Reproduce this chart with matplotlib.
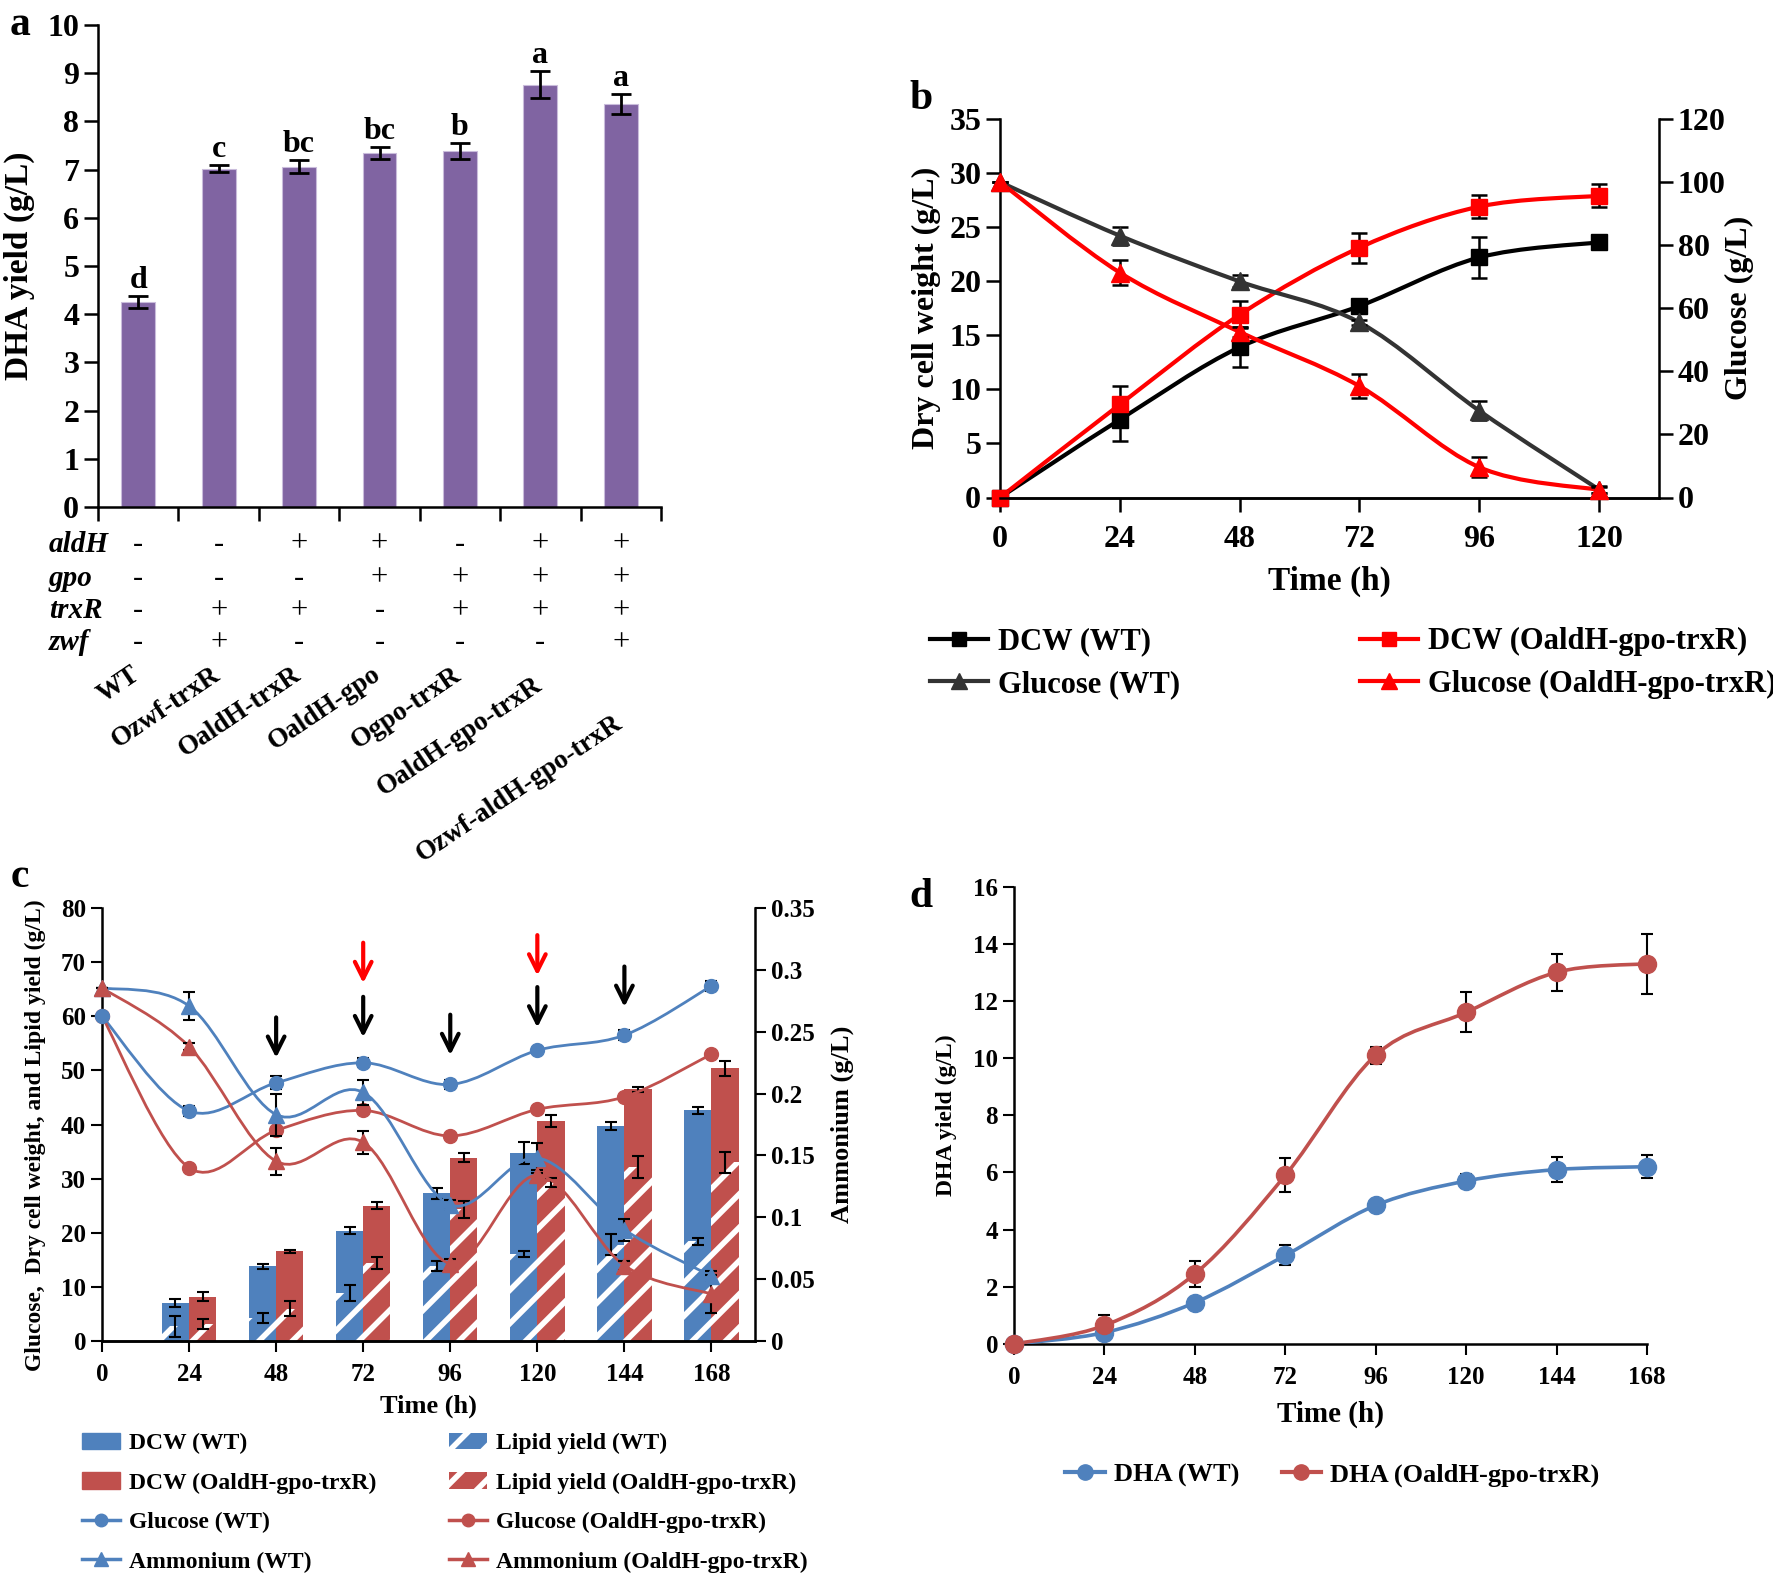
import numpy as np
import matplotlib
matplotlib.use("Agg")
import matplotlib.pyplot as plt
from matplotlib.path import Path
from matplotlib.patches import PathPatch, Patch
from matplotlib.lines import Line2D
from matplotlib.ticker import FuncFormatter
from matplotlib.transforms import blended_transform_factory

plt.rcParams["font.family"] = ["Liberation Serif", "DejaVu Serif"]
plt.rcParams["font.weight"] = "bold"
plt.rcParams["axes.labelweight"] = "bold"
plt.rcParams["hatch.linewidth"] = 4.0
plt.rcParams["axes.linewidth"] = 1.8

# ---------------- panel a: DHA yield of the strains
strains = ["WT", "Ozwf-trxR", "OaldH-trxR", "OaldH-gpo", "Ogpo-trxR",
           "OaldH-gpo-trxR", "Ozwf-aldH-gpo-trxR"]
dha_yield = [4.25, 7.02, 7.06, 7.34, 7.38, 8.76, 8.36]
dha_err = [0.12, 0.08, 0.14, 0.13, 0.17, 0.28, 0.20]
sig_letters = ["d", "c", "bc", "bc", "b", "a", "a"]
genes = ["aldH", "gpo", "trxR", "zwf"]
gene_marks = [
    ["-", "-", "+", "+", "-", "+", "+"],
    ["-", "-", "-", "+", "+", "+", "+"],
    ["-", "+", "+", "-", "+", "+", "+"],
    ["-", "+", "-", "-", "-", "-", "+"],
]

# ---------------- panel b: DCW and glucose, flask culture
time_b = [0, 24, 48, 72, 96, 120]
dcw_wt_b = [0, 7.2, 13.9, 17.7, 22.2, 23.6]
dcw_wt_b_err = [0, 2.0, 1.85, 0.4, 1.9, 0.3]
dcw_ox_b = [0, 8.6, 16.9, 23.1, 26.9, 27.9]
dcw_ox_b_err = [0, 1.7, 1.25, 1.4, 1.1, 1.05]
glc_wt_b = [100, 83, 68.5, 55.5, 27.5, 2.5]
glc_wt_b_err = [0, 2.9, 1.9, 0.8, 3.0, 1.0]
glc_ox_b = [100, 71.3, 52.5, 35.3, 9.6, 2.4]
glc_ox_b_err = [0, 4.0, 1.5, 3.7, 3.2, 1.0]

# ---------------- panel c: fed-batch culture
time_c = [0, 24, 48, 72, 96, 120, 144, 168]
bar_time_c = [24, 48, 72, 96, 120, 144, 168]
dcw_wt_c = [7.0, 13.8, 20.4, 27.3, 34.7, 39.7, 42.6]
dcw_wt_c_err = [0.7, 0.5, 0.6, 1.0, 2.0, 0.8, 0.6]
dcw_ox_c = [8.2, 16.6, 25.0, 33.9, 40.7, 46.5, 50.4]
dcw_ox_c_err = [0.8, 0.3, 0.6, 0.8, 1.1, 0.5, 1.4]
lipid_wt_c = [2.7, 4.3, 8.9, 13.8, 16.1, 17.8, 18.4]
lipid_wt_c_err = [1.9, 0.9, 1.5, 0.9, 0.5, 1.9, 0.6]
lipid_ox_c = [3.2, 6.0, 14.4, 24.3, 29.3, 32.1, 33.0]
lipid_ox_c_err = [0.9, 1.4, 1.1, 1.5, 0.9, 2.0, 2.0]
glc_wt_c = [60, 42.5, 47.7, 51.4, 47.4, 53.7, 56.5, 65.6]
glc_wt_c_err = [0, 0.9, 1.2, 0.8, 0.8, 0.4, 0.9, 1.0]
glc_ox_c = [60, 32.0, 38.9, 42.6, 37.9, 42.8, 45.1, 53.0]
amm_wt_c = [0.2855, 0.2708, 0.183, 0.201, 0.110, 0.148, 0.090, 0.0525]
amm_wt_c_err = [0, 0.011, 0.017, 0.010, 0.004, 0.012, 0.009, 0.004]
amm_ox_c = [0.2855, 0.238, 0.1453, 0.1606, 0.0626, 0.134, 0.061, 0.038]
amm_ox_c_err = [0, 0.003, 0.011, 0.0095, 0.004, 0.004, 0.004, 0.015]
# feeding arrows (time, tip height on the left axis)
feed_black = [(48, 51.8), (72, 55.6), (96, 52.3), (120, 57.4), (144, 61.2)]
feed_red = [(72, 65.6), (120, 67.0)]

# ---------------- panel d: DHA in fed-batch culture
time_d = [0, 24, 48, 72, 96, 120, 144, 168]
dha_wt_d = [0, 0.4, 1.45, 3.1, 4.85, 5.7, 6.1, 6.2]
dha_wt_d_err = [0, 0.05, 0.15, 0.35, 0.1, 0.25, 0.45, 0.4]
dha_ox_d = [0, 0.65, 2.45, 5.9, 10.1, 11.6, 13.0, 13.3]
dha_ox_d_err = [0, 0.35, 0.45, 0.6, 0.3, 0.7, 0.65, 1.05]

PURPLE = "#8064A2"
BLUE = "#4F81BD"
RED = "#C0504D"
W, H = 1773, 1574


def fx(px):
    return px / W


def fy(py):
    return 1 - py / H


def smooth_line(ax, x, y, color, lw, zorder=3):
    # Excel-like smoothed line: cubic bezier segments through the points
    pts = np.column_stack([np.asarray(x, float), np.asarray(y, float)])
    ext = np.vstack([pts[0], pts, pts[-1]])
    verts = [pts[0]]
    codes = [Path.MOVETO]
    for i in range(len(pts) - 1):
        p0, p1, p2, p3 = ext[i], ext[i + 1], ext[i + 2], ext[i + 3]
        verts += [p1 + (p2 - p0) / 6.0, p2 - (p3 - p1) / 6.0, p2]
        codes += [Path.CURVE4] * 3
    ax.add_patch(PathPatch(Path(verts, codes), fill=False, edgecolor=color,
                           lw=lw, zorder=zorder, capstyle="round"))


def clean(ax):
    ax.spines["top"].set_visible(False)
    ax.spines["right"].set_visible(False)


fig = plt.figure(figsize=(W / 100, H / 100), dpi=100)

# ======================= panel a
ax_a = fig.add_axes([fx(98), fy(507), fx(661 - 98), (507 - 25) / H])
xa = np.arange(len(strains))
ax_a.bar(xa, dha_yield, width=0.42, color=PURPLE, edgecolor="#c9bcdb",
         lw=0.8, zorder=2)
ax_a.errorbar(xa, dha_yield, yerr=dha_err, fmt="none", ecolor="black",
              elinewidth=2, capsize=7, capthick=2, zorder=3)
for x, v, e, s in zip(xa, dha_yield, dha_err, sig_letters):
    ax_a.text(x, v + e + 0.02, s, ha="center", va="bottom", fontsize=23)
ax_a.set_xlim(-0.5, len(strains) - 0.5)
ax_a.set_ylim(0, 10)
ax_a.set_yticks(range(0, 11))
ax_a.set_xticks(np.arange(-0.5, len(strains), 1))
ax_a.set_xticklabels([])
ax_a.tick_params(direction="out", length=10, width=1.8, labelsize=23)
ax_a.set_ylabel("DHA yield (g/L)", fontsize=24)
ax_a.yaxis.set_label_coords(-0.112, 0.5)
clean(ax_a)

tr_a = blended_transform_factory(ax_a.transData, fig.transFigure)
row_y = [544, 578, 611, 643]
for gene, marks, ry in zip(genes, gene_marks, row_y):
    fig.text(fx(49), fy(ry), gene, ha="left", va="center", fontsize=21,
             style="italic")
    for x, m in zip(xa, marks):
        ax_a.text(x, fy(ry), m, transform=tr_a, ha="center", va="center",
                  fontsize=22, fontweight="normal")
# the last two labels sit a little lower, as in the source figure
label_top = [662, 662, 662, 662, 662, 672, 711]
for x, s, ly in zip(xa, strains, label_top):
    ax_a.text(x - 0.1, fy(ly), s, transform=tr_a, ha="right", va="top",
              rotation=34, rotation_mode="anchor", fontsize=19.5)

fig.text(fx(20), fy(25), "a", ha="center", va="center", fontsize=30)

# ======================= panel b
ax_b = fig.add_axes([fx(1000), fy(497.5), fx(1659 - 1000), (497.5 - 119) / H])
ax_b2 = ax_b.twinx()
smooth_line(ax_b, time_b, dcw_wt_b, "black", 3)
smooth_line(ax_b, time_b, dcw_ox_b, "#ff0000", 3)
smooth_line(ax_b2, time_b, glc_wt_b, "#333333", 3)
smooth_line(ax_b2, time_b, glc_ox_b, "#ff0000", 3)
ax_b.errorbar(time_b, dcw_wt_b, yerr=dcw_wt_b_err, fmt="s", color="black",
              ms=11, ecolor="black", elinewidth=1.8, capsize=6, capthick=1.8,
              zorder=4, clip_on=False)
ax_b.errorbar(time_b, dcw_ox_b, yerr=dcw_ox_b_err, fmt="s", color="#ff0000",
              ms=11, ecolor="black", elinewidth=1.8, capsize=6, capthick=1.8,
              zorder=4, clip_on=False)
ax_b2.errorbar(time_b, glc_wt_b, yerr=glc_wt_b_err, fmt="^", color="#333333",
               ms=13, ecolor="black", elinewidth=1.8, capsize=6, capthick=1.8,
               zorder=4, clip_on=False)
ax_b2.errorbar(time_b, glc_ox_b, yerr=glc_ox_b_err, fmt="^", color="#ff0000",
               ms=13, ecolor="black", elinewidth=1.8, capsize=6, capthick=1.8,
               zorder=4, clip_on=False)
ax_b.set_xlim(0, 132)
ax_b.set_ylim(0, 35)
ax_b2.set_ylim(0, 120)
ax_b.set_xticks(time_b)
ax_b.set_yticks(range(0, 36, 5))
ax_b2.set_yticks(range(0, 121, 20))
for ax in (ax_b, ax_b2):
    ax.tick_params(direction="out", length=10, width=1.8, labelsize=23)
ax_b.tick_params(axis="x", pad=10)
ax_b.set_xlabel("Time (h)", fontsize=24, labelpad=8)
ax_b.set_ylabel("Dry cell weight (g/L)", fontsize=23)
ax_b.yaxis.set_label_coords(-0.09, 0.5)
ax_b2.set_ylabel("Glucose (g/L)", fontsize=23, rotation=90)
ax_b2.yaxis.set_label_coords(1.1, 0.5)
clean(ax_b)
ax_b2.spines["top"].set_visible(False)
ax_b2.spines["left"].set_visible(False)
fig.text(fx(921), fy(99), "b", ha="center", va="center", fontsize=30)

h_b = [Line2D([], [], color="black", marker="s", lw=3, ms=10),
       Line2D([], [], color="#333333", marker="^", lw=3, ms=12),
       Line2D([], [], color="#ff0000", marker="s", lw=3, ms=10),
       Line2D([], [], color="#ff0000", marker="^", lw=3, ms=12)]
l_b = ["DCW (WT)", "Glucose (WT)", "DCW (OaldH-gpo-trxR)",
       "Glucose (OaldH-gpo-trxR)"]
fig.legend(h_b[:2], l_b[:2], loc="upper left",
           bbox_to_anchor=(fx(915), fy(612)), frameon=False, fontsize=22,
           handlelength=1.9, handletextpad=0.3, labelspacing=0.45,
           borderpad=0)
fig.legend(h_b[2:], l_b[2:], loc="upper left",
           bbox_to_anchor=(fx(1345), fy(612)), frameon=False, fontsize=22,
           handlelength=1.9, handletextpad=0.3, labelspacing=0.45,
           borderpad=0)

# ======================= panel c
ax_c = fig.add_axes([fx(102), fy(1341), fx(755 - 102), (1341 - 908) / H])
ax_c2 = ax_c.twinx()
bt = np.asarray(bar_time_c, float)
bw = 7.5
ax_c.bar(bt - bw / 2, dcw_wt_c, width=bw, color=BLUE, lw=0, zorder=1)
ax_c.bar(bt + bw / 2, dcw_ox_c, width=bw, color=RED, lw=0, zorder=1)
ax_c.bar(bt - bw / 2, lipid_wt_c, width=bw, color=BLUE, edgecolor="white",
         hatch="/", lw=0, zorder=1.5)
ax_c.bar(bt + bw / 2, lipid_ox_c, width=bw, color=RED, edgecolor="white",
         hatch="/", lw=0, zorder=1.5)
ekw = dict(fmt="none", ecolor="black", elinewidth=1.5, capsize=4,
           capthick=1.5, zorder=2)
ax_c.errorbar(bt - bw / 2, dcw_wt_c, yerr=dcw_wt_c_err, **ekw)
ax_c.errorbar(bt + bw / 2, dcw_ox_c, yerr=dcw_ox_c_err, **ekw)
ax_c.errorbar(bt - bw / 2, lipid_wt_c, yerr=lipid_wt_c_err, **ekw)
ax_c.errorbar(bt + bw / 2, lipid_ox_c, yerr=lipid_ox_c_err, **ekw)

smooth_line(ax_c, time_c, glc_wt_c, BLUE, 2)
smooth_line(ax_c, time_c, glc_ox_c, RED, 2)
ax_c.errorbar(time_c, glc_wt_c, yerr=glc_wt_c_err, fmt="o", color=BLUE, ms=10,
              ecolor="black", elinewidth=1.5, capsize=4, capthick=1.5,
              zorder=4, clip_on=False)
ax_c.plot(time_c, glc_ox_c, "o", color=RED, ms=10, zorder=4, clip_on=False)

smooth_line(ax_c2, time_c, amm_wt_c, BLUE, 2)
smooth_line(ax_c2, time_c, amm_ox_c, RED, 2)
ax_c2.errorbar(time_c, amm_wt_c, yerr=amm_wt_c_err, fmt="^", color=BLUE,
               ms=11, ecolor="black", elinewidth=1.5, capsize=4,
               capthick=1.5, zorder=4, clip_on=False)
ax_c2.errorbar(time_c, amm_ox_c, yerr=amm_ox_c_err, fmt="^", color=RED,
               ms=11, ecolor="black", elinewidth=1.5, capsize=4,
               capthick=1.5, zorder=4, clip_on=False)

for t, tip in feed_black:
    ax_c.annotate("", xy=(t, tip), xytext=(t, tip + 8.5),
                  arrowprops=dict(arrowstyle="->", color="black", lw=3,
                                  mutation_scale=30), zorder=5)
for t, tip in feed_red:
    ax_c.annotate("", xy=(t, tip), xytext=(t, tip + 8.5),
                  arrowprops=dict(arrowstyle="->", color="#ff0000", lw=3,
                                  mutation_scale=30), zorder=5)

ax_c.set_xlim(0, 180)
ax_c.set_ylim(0, 80)
ax_c2.set_ylim(0, 0.35)
ax_c.set_xticks(time_c)
ax_c.set_yticks(range(0, 81, 10))
ax_c2.set_yticks(np.arange(0, 0.351, 0.05))
ax_c2.yaxis.set_major_formatter(FuncFormatter(lambda v, p: f"{v:g}"))
for ax in (ax_c, ax_c2):
    ax.tick_params(direction="out", length=8, width=1.5, labelsize=18)
ax_c.tick_params(axis="x", pad=8)
ax_c.set_xlabel("Time (h)", fontsize=19, labelpad=6)
ax_c.set_ylabel("Glucose,  Dry cell weight, and Lipid yield (g/L)",
                fontsize=17)
ax_c.yaxis.set_label_coords(-0.085, 0.475)
ax_c2.set_ylabel("Ammonium (g/L)", fontsize=19, rotation=90)
ax_c2.yaxis.set_label_coords(1.115, 0.5)
clean(ax_c)
ax_c2.spines["top"].set_visible(False)
ax_c2.spines["left"].set_visible(False)
fig.text(fx(20), fy(877), "c", ha="center", va="center", fontsize=30)

h_c1 = [Patch(color=BLUE), Patch(color=RED),
        Line2D([], [], color=BLUE, marker="o", lw=2.5, ms=9),
        Line2D([], [], color=BLUE, marker="^", lw=2.5, ms=10)]
l_c1 = ["DCW (WT)", "DCW (OaldH-gpo-trxR)", "Glucose (WT)", "Ammonium (WT)"]
h_c2 = [Patch(facecolor=BLUE, edgecolor="white", hatch="/", lw=0),
        Patch(facecolor=RED, edgecolor="white", hatch="/", lw=0),
        Line2D([], [], color=RED, marker="o", lw=2.5, ms=9),
        Line2D([], [], color=RED, marker="^", lw=2.5, ms=10)]
l_c2 = ["Lipid yield (WT)", "Lipid yield (OaldH-gpo-trxR)",
        "Glucose (OaldH-gpo-trxR)", "Ammonium (OaldH-gpo-trxR)"]
fig.legend(h_c1, l_c1, loc="upper left", bbox_to_anchor=(fx(70), fy(1421)),
           frameon=False, fontsize=17, handlelength=1.6, handletextpad=0.4,
           labelspacing=0.76, borderpad=0)
fig.legend(h_c2, l_c2, loc="upper left", bbox_to_anchor=(fx(437), fy(1421)),
           frameon=False, fontsize=17, handlelength=1.6, handletextpad=0.4,
           labelspacing=0.76, borderpad=0)

# ======================= panel d
ax_d = fig.add_axes([fx(1014), fy(1344), fx(1647 - 1014), (1344 - 886.5) / H])
smooth_line(ax_d, time_d, dha_wt_d, BLUE, 2.6)
smooth_line(ax_d, time_d, dha_ox_d, RED, 2.6)
ax_d.errorbar(time_d, dha_wt_d, yerr=dha_wt_d_err, fmt="o", color=BLUE,
              ms=13, ecolor="black", elinewidth=1.5, capsize=4, capthick=1.5,
              zorder=4, clip_on=False)
ax_d.errorbar(time_d, dha_ox_d, yerr=dha_ox_d_err, fmt="o", color=RED,
              ms=13, ecolor="black", elinewidth=1.5, capsize=4, capthick=1.5,
              zorder=4, clip_on=False)
ax_d.set_xlim(0, 168)
ax_d.set_ylim(0, 16)
ax_d.set_xticks(time_d)
ax_d.set_yticks(range(0, 17, 2))
ax_d.tick_params(direction="out", length=8, width=1.5, labelsize=18)
ax_d.tick_params(axis="x", pad=8)
ax_d.set_xlabel("Time (h)", fontsize=21, labelpad=8)
ax_d.set_ylabel("DHA yield (g/L)", fontsize=17)
ax_d.yaxis.set_label_coords(-0.09, 0.5)
clean(ax_d)
fig.text(fx(921), fy(897), "d", ha="center", va="center", fontsize=30)

h_d = [Line2D([], [], color=BLUE, marker="o", lw=3, ms=11),
       Line2D([], [], color=RED, marker="o", lw=3, ms=11)]
fig.legend(h_d, ["DHA (WT)", "DHA (OaldH-gpo-trxR)"], loc="upper left",
           bbox_to_anchor=(fx(1052), fy(1450)), frameon=False, fontsize=19,
           ncol=2, handlelength=1.5, handletextpad=0.35, columnspacing=1.6,
           borderpad=0)

fig.savefig("out.png", dpi=100)
